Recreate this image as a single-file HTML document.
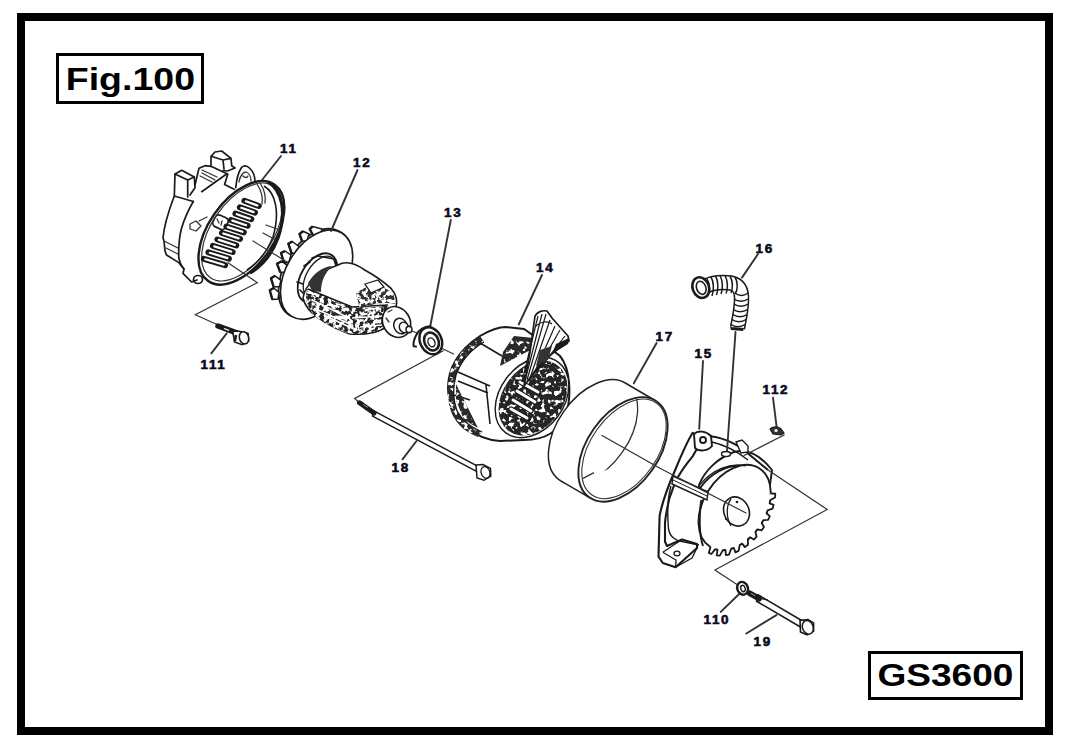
<!DOCTYPE html>
<html><head><meta charset="utf-8">
<style>
html,body{margin:0;padding:0;background:#fff;width:1070px;height:750px;overflow:hidden}
svg{position:absolute;left:0;top:0;display:block}
.lb{font-family:"Liberation Sans",sans-serif;font-weight:bold;font-size:12px;fill:#0a0a1e;stroke:#0a0a1e;stroke-width:0.55;letter-spacing:1.5px}
.big{font-family:"Liberation Sans",sans-serif;font-weight:bold;font-size:31px;fill:#000}
.k{fill:none;stroke:#1a1a1a;stroke-width:1.7;stroke-linecap:round;stroke-linejoin:round}
.kt{fill:none;stroke:#1a1a1a;stroke-width:2.4;stroke-linecap:round;stroke-linejoin:round}
.kn{fill:none;stroke:#333;stroke-width:1.3;stroke-linecap:round;stroke-linejoin:round}
.d{fill:none;stroke:#333;stroke-width:1.1;stroke-dasharray:9 1.5 1.5 1.5}
.ld{fill:none;stroke:#3a3a3a;stroke-width:1.3}
.w{fill:#fff}
.f{fill:#1a1a1a}
</style></head><body>
<svg width="1070" height="750" viewBox="0 0 1070 750">
<rect x="0" y="0" width="1070" height="750" fill="#fff"/>
<rect x="21" y="17" width="1028" height="714" fill="none" stroke="#000" stroke-width="8"/>
<rect x="57.5" y="54.5" width="145" height="48" fill="none" stroke="#000" stroke-width="3"/>
<text class="big" transform="translate(65.8,90) scale(1.21,1)">Fig.100</text>
<rect x="869.5" y="652.5" width="152" height="46" fill="none" stroke="#000" stroke-width="3"/>
<text class="big" transform="translate(877.5,686) scale(1.195,1)">GS3600</text>
<text class="lb" transform="translate(280,153) scale(1.12,1)">11</text>
<text class="lb" transform="translate(353,166.5) scale(1.12,1)">12</text>
<text class="lb" transform="translate(444,217) scale(1.12,1)">13</text>
<text class="lb" transform="translate(536,272) scale(1.12,1)">14</text>
<text class="lb" transform="translate(755.5,253) scale(1.12,1)">16</text>
<text class="lb" transform="translate(655.5,341) scale(1.12,1)">17</text>
<text class="lb" transform="translate(694.5,358) scale(1.12,1)">15</text>
<text class="lb" transform="translate(762.5,393.5) scale(1.12,1)">112</text>
<text class="lb" transform="translate(391.5,472) scale(1.12,1)">18</text>
<text class="lb" transform="translate(200.5,369) scale(1.12,1)">111</text>
<text class="lb" transform="translate(703.5,623.5) scale(1.12,1)">110</text>
<text class="lb" transform="translate(753.5,646) scale(1.12,1)">19</text>
<!-- a11.svg -->
<g id="p11">
<!-- lugs / back body -->
<path class="k" d="M175,174 L181.7,170.3 L194.3,177 L187.7,180 Z"/>
<path class="k" d="M175,174 L174.3,196 M187.7,180 L187.7,197 M174.3,196 L193.3,201.5 M194.3,177 L195,187.7 L190,195"/>
<path class="k" d="M195,185 L199,168.3 L205,165.7 L211,166.3 L227,173.7 M201.7,191.7 L227,173.7"/>
<path class="kn" d="M202,170 L217,177 M202,173 L215,180 M200,176 L212,182"/>
<path class="k" d="M211,166.3 L211,156.3 L215,152 L221.7,151 L231,158.3 L231.7,165.7 L235,168 L227.5,171 L223,170.5 M223,160 L224,169 M211,156.3 L223,160 L231,158.3"/>
<path class="k" d="M235.8,187.6 C236.5,180 238.5,172 241.5,167.5 C244,165 247,165.5 250,168.5 C253.5,172 255,177 255,182 M227.8,174 L224.6,184.4 L234.2,189.2"/>
<path class="kn" d="M239,182 C240,176 243,172 246,172 C249,173 251,177 251,181 M243,176 C245,178 247,178 248,176"/>
<!-- outer left edge -->
<path class="k" d="M174.3,196 C169,210 164,226 163,238 L164,241 L165,251 L166.5,255 L178.8,262.6 L184,269 L183,273.3 L191.6,282 L197,280"/>
<path class="kn" d="M164,241 L178,248 M166,248 L178,254"/>
<!-- inner face edge -->
<path class="k" d="M193.3,201.5 C190,207 184,220 181.3,229 C179.5,236 178.5,244 178.7,257 C179.5,262 181,266 184,269"/>
<!-- boss bottom -->
<ellipse class="k" cx="198" cy="279.5" rx="4.5" ry="4"/>
<!-- small features -->
<path class="kn" d="M190,224 L196,221 L201,226 L196,231 L190,229 Z M199,221 L207,217"/>
<rect class="k" x="213.5" y="216" width="14" height="12.5" rx="4" transform="rotate(25 220.5 222.2)" stroke-width="1.6"/><path class="kn" d="M217,219 L219,223 M222,221 L221,225"/>
<!-- rim -->
<ellipse cx="241.4" cy="232.9" rx="58.5" ry="33" transform="rotate(-55.4 241.4 232.9)" fill="none" stroke="#1a1a1a" stroke-width="2.4"/>
<ellipse cx="242" cy="232" rx="55.5" ry="30.5" transform="rotate(-55.4 242 232)" fill="none" stroke="#333" stroke-width="1.2"/>
<path d="M268,182 C282,190 287,212 278,238 C272,254 262,266 250,273" fill="none" stroke="#1a1a1a" stroke-width="3.2"/>
<path d="M264,186 C276,193 280,213 273,237 C267,252 258,263 247,270" fill="none" stroke="#1a1a1a" stroke-width="1.6"/>
<path class="kn" d="M257,184 C261,190 263,197 262,204 M260,183 C264,189 266,196 265,203"/>
<!-- slots -->
<g stroke="#1a1a1a" stroke-linecap="round" fill="none">
<path stroke-width="6" d="M244.4,200.8 L258.8,206.0 M239.9,207.3 L255.0,212.6 M235.4,213.7 L251.3,219.1 M230.9,220.2 L247.6,225.7 M226.4,226.6 L243.8,232.3 M221.9,233.0 L240.1,238.9 M217.4,239.5 L236.3,245.4 M212.9,245.9 L232.6,252.0 M208.4,252.4 L228.9,258.6 M203.9,258.9 L225.1,265.1"/>
<path stroke-width="2.2" stroke="#fff" d="M245.8,201.3 L257.4,205.5 M241.3,207.8 L253.6,212.1 M236.8,214.2 L249.9,218.7 M232.3,220.6 L246.1,225.2 M227.8,227.1 L242.4,231.8 M223.3,233.5 L238.6,238.4 M218.8,239.9 L234.9,245.0 M214.3,246.4 L231.2,251.6 M209.8,252.8 L227.4,258.1 M205.3,259.3 L223.7,264.7"/>
</g>
<path class="kn" d="M266,225 L280,230 M263,233 L276,240"/>
</g>
<!-- b12a.svg -->
<g id="p12">
<ellipse cx="314.6" cy="273.4" rx="48.7" ry="30.4" transform="rotate(-59.2 314.6 273.4)" fill="#fff" stroke="#1a1a1a" stroke-width="1.8"/>
<path fill="#fff" stroke="#1a1a1a" stroke-width="1.5" stroke-linejoin="round" d="M309.7,229.0 L312.5,226.5 L322.0,229.0 L320.0,236.0 L314.0,237.0 Z"/><path d="M314.0,237.0 L309.7,229.0 L312.5,226.5" stroke="#1a1a1a" stroke-width="2.4" fill="none" stroke-linejoin="round"/><path fill="#fff" stroke="#1a1a1a" stroke-width="1.5" stroke-linejoin="round" d="M299.5,234.0 L303.0,231.2 L309.0,234.0 L307.0,241.0 L302.0,241.0 Z"/><path d="M302.0,241.0 L299.5,234.0 L303.0,231.2" stroke="#1a1a1a" stroke-width="2.4" fill="none" stroke-linejoin="round"/><path fill="#fff" stroke="#1a1a1a" stroke-width="1.5" stroke-linejoin="round" d="M288.3,243.7 L292.3,241.5 L299.0,246.5 L297.0,253.0 L291.7,253.5 Z"/><path d="M291.7,253.5 L288.3,243.7 L292.3,241.5" stroke="#1a1a1a" stroke-width="2.4" fill="none" stroke-linejoin="round"/><path fill="#fff" stroke="#1a1a1a" stroke-width="1.5" stroke-linejoin="round" d="M281.0,253.0 L285.0,251.0 L291.0,255.0 L289.0,262.0 L284.0,262.5 Z"/><path d="M284.0,262.5 L281.0,253.0 L285.0,251.0" stroke="#1a1a1a" stroke-width="2.4" fill="none" stroke-linejoin="round"/><path fill="#fff" stroke="#1a1a1a" stroke-width="1.5" stroke-linejoin="round" d="M277.0,263.7 L281.7,261.2 L287.5,265.7 L285.5,272.0 L280.3,272.5 Z"/><path d="M280.3,272.5 L277.0,263.7 L281.7,261.2" stroke="#1a1a1a" stroke-width="2.4" fill="none" stroke-linejoin="round"/><path fill="#fff" stroke="#1a1a1a" stroke-width="1.5" stroke-linejoin="round" d="M271.0,278.3 L275.0,275.8 L281.0,280.3 L279.5,286.5 L273.7,287.0 Z"/><path d="M273.7,287.0 L271.0,278.3 L275.0,275.8" stroke="#1a1a1a" stroke-width="2.4" fill="none" stroke-linejoin="round"/><path fill="#fff" stroke="#1a1a1a" stroke-width="1.5" stroke-linejoin="round" d="M269.8,290.3 L273.7,288.0 L279.0,292.3 L278.0,299.0 L272.3,299.5 Z"/><path d="M272.3,299.5 L269.8,290.3 L273.7,288.0" stroke="#1a1a1a" stroke-width="2.4" fill="none" stroke-linejoin="round"/>
<ellipse cx="316.6" cy="274.6" rx="48.7" ry="30.4" transform="rotate(-59.2 316.6 274.6)" fill="#fff" stroke="#1a1a1a" stroke-width="1.6"/>
<!-- b12b.svg -->
<!-- collar -->
<ellipse cx="317.5" cy="278" rx="27" ry="16.5" transform="rotate(-59 317.5 278)" fill="#fff" stroke="#1a1a1a" stroke-width="1.8"/>
<ellipse cx="319.5" cy="277" rx="23" ry="13" transform="rotate(-59 319.5 277)" fill="none" stroke="#1a1a1a" stroke-width="1.3"/>
<path class="k" d="M312,258 L318,256 L334,259 L337,268 M304,266 L310,262 M300,290 L306,296 M297,282 L303,284"/>
<!-- rotor body -->
<path fill="#fff" stroke="#1a1a1a" stroke-width="1.6" d="M338,265 C343,262 352,261 364.7,270 C372,274 381,279 391.3,288.7 C395,293 397,297 396.7,303 L395,312 L385,328 C378,332 365,335 350,334 C340,331 330,326 316.7,316.7 C310,312 305,306 303,298 C305,285 318,272 338,265 Z"/>
<!-- dark winding band -->
<defs>
<filter id="mot12" x="0" y="0" width="100%" height="100%" filterUnits="userSpaceOnUse">
<feTurbulence type="fractalNoise" baseFrequency="0.25" numOctaves="2" seed="11" result="n"/>
<feColorMatrix in="n" type="matrix" values="0 0 0 0 1  0 0 0 0 1  0 0 0 0 1  9 0 0 0 -4.0"/>
</filter>
<clipPath id="cb12"><path d="M307,289 C316,290 330,300 350,306 C362,309 375,308 388,305 L390,322 C384,330 372,334 352,334 C338,331 326,325 315,316 C308,309 304,300 307,289 Z"/></clipPath>
<clipPath id="cb12b"><path d="M356,294 C366,284 380,283 393,293 L396,304 C386,302 372,303 360,309 Z"/></clipPath>
</defs>
<path fill="#262626" d="M307,289 C316,290 330,300 350,306 C362,309 375,308 388,305 L390,322 C384,330 372,334 352,334 C338,331 326,325 315,316 C308,309 304,300 307,289 Z"/>
<g clip-path="url(#cb12)"><rect x="300" y="280" width="100" height="60" filter="url(#mot12)"/></g>
<g stroke="#fff" stroke-width="1.6" fill="none">
<path d="M312,300 L345,316 M318,310 L350,324 M330,318 L356,330 M352,318 L385,316 M360,327 L382,325"/>
</g>
<g stroke="#1a1a1a" stroke-width="1.6" fill="none">
<path d="M308,289 L352,307 L388,305"/>
</g>
<path fill="#333" d="M308,283 C314,273 322,267 332,266 C325,273 321,281 321,292 L312,291 Z"/>
<path fill="#333" d="M356,294 C366,284 380,283 393,293 L396,304 C386,302 372,303 360,309 Z"/>
<g clip-path="url(#cb12b)"><rect x="350" y="280" width="50" height="32" filter="url(#mot12)"/></g>
<path fill="#fff" stroke="#1a1a1a" stroke-width="1.3" d="M365,284 L378,280 L384,287 L371,293 Z"/>
<!-- end cap -->
<ellipse cx="396.5" cy="322" rx="13.5" ry="16" transform="rotate(-30 396.5 322)" fill="#fff" stroke="#1a1a1a" stroke-width="1.6"/>
<path class="kn" d="M388,312 L392,310 M386,318 L389,322" />
<ellipse cx="400.5" cy="326" rx="6.5" ry="8" transform="rotate(-25 400.5 326)" fill="#fff" stroke="#1a1a1a" stroke-width="1.5"/>
<ellipse cx="404" cy="327.5" rx="4.5" ry="5.5" transform="rotate(-25 404 327.5)" fill="#fff" stroke="#1a1a1a" stroke-width="1.4"/>
<ellipse cx="409" cy="329.5" rx="3" ry="3.2" fill="#fff" stroke="#1a1a1a" stroke-width="1.4"/>
<path class="kn" d="M412,331 L417,333"/>
</g>
<!-- c14.svg -->
<g id="p14">
<!-- body -->
<path fill="#fff" stroke="#1a1a1a" stroke-width="2" d="M480,336 C492,329 500,327 506,327 L524,329 L534,336 L560,356 C570,368 572,395 566,414 C560,430 548,440 524,440 L500,441 C486,440 474,434 466,427 C455,416 448,400 448,388 C448,370 456,352 480,336 Z"/>
<clipPath id="cbd14"><path d="M480,336 C468,344 456,356 450,372 C447,385 447,402 452,414 C458,426 466,432 478,437 L482,432 C470,427 462,420 457,411 C453,400 453,386 456,375 C461,361 472,349 484,342 Z"/></clipPath>
<path fill="#2a2a2a" d="M480,336 C468,344 456,356 450,372 C447,385 447,402 452,414 C458,426 466,432 478,437 L482,432 C470,427 462,420 457,411 C453,400 453,386 456,375 C461,361 472,349 484,342 Z"/>
<g clip-path="url(#cbd14)"><rect x="440" y="330" width="50" height="110" filter="url(#mot14)"/></g>
<path fill="none" stroke="#1a1a1a" stroke-width="1.3" d="M484,342 C472,349 461,361 456,375 C453,386 453,400 457,411 C462,420 470,427 482,432"/>
<!-- left stripes -->
<path fill="none" stroke="#1a1a1a" stroke-width="1.6" d="M458,372 L490,386 M458,381 L488,393 M480,343 L502,356 M486,385 L490,424 M454,395 L470,400"/>
<clipPath id="ct14a"><path d="M456,384 L470,412 L478,428 L464,420 L456,400 Z"/></clipPath><path fill="#2a2a2a" d="M456,384 L470,412 L478,428 L464,420 L456,400 Z"/><g clip-path="url(#ct14a)"><rect x="450" y="380" width="30" height="50" filter="url(#mot14)"/></g>
<clipPath id="ct14b"><path d="M514,336 L534,338 L540,345 L500,366 L503,352 Z"/></clipPath><path fill="#2a2a2a" d="M514,336 L534,338 L540,345 L500,366 L503,352 Z"/><g clip-path="url(#ct14b)"><rect x="495" y="330" width="50" height="40" filter="url(#mot14)"/></g>
<!-- face -->
<defs>
<filter id="mot14" x="0" y="0" width="100%" height="100%" filterUnits="userSpaceOnUse">
<feTurbulence type="fractalNoise" baseFrequency="0.22" numOctaves="2" seed="7" result="n"/>
<feColorMatrix in="n" type="matrix" values="0 0 0 0 1  0 0 0 0 1  0 0 0 0 1  9 0 0 0 -4.9"/>
</filter>
<clipPath id="cf14"><ellipse cx="533" cy="398" rx="41" ry="30" transform="rotate(-53 533 398)"/></clipPath>
</defs>
<ellipse cx="532" cy="397.5" rx="44" ry="32" transform="rotate(-53 532 397.5)" fill="#fff" stroke="#1a1a1a" stroke-width="1.4"/>
<ellipse cx="533" cy="398" rx="41" ry="30" transform="rotate(-53 533 398)" fill="#262626"/>
<g clip-path="url(#cf14)"><rect x="480" y="340" width="110" height="110" filter="url(#mot14)"/></g>
<g stroke="#1a1a1a" stroke-width="5.2" stroke-linecap="round" fill="none">
<path d="M520,382 L538,392 M517,391 L535,402 M513,400 L531,411 M511,409 L527,418"/>
</g>
<g stroke="#fff" stroke-width="3" stroke-linecap="round" fill="none">
<path d="M520,382 L538,392 M517,391 L535,402 M513,400 L531,411 M511,409 L527,418"/>
</g>
<!-- wire bundle -->
<path fill="#fff" stroke="#1a1a1a" stroke-width="1.7" stroke-linejoin="round" d="M535,316 C537,312 542,310 547,311 L552,318 L568,336 L569,341 L560,347 L540,364 L524,386 L530,352 Z"/>
<g stroke="#1a1a1a" stroke-width="1.2" fill="none">
<path d="M538,316 L522,382 M542,314 L525,381 M546,314 L527,380 M550,320 L530,378 M555,326 L533,376 M560,330 L536,372 M565,336 L540,368 M536,326 C540,322 548,320 552,324"/>
</g>
<path fill="#1a1a1a" d="M556,344 L569,338 L568,344 L552,354 Z"/>
<path fill="#333" d="M540,350 L552,346 L548,360 L536,366 Z"/>
</g>
<!-- d17.svg -->
<g id="p17">
<ellipse cx="593.0" cy="431.9" rx="58.6" ry="35.7" transform="rotate(-54.8 593.0 431.9)" fill="#fff" stroke="#222" stroke-width="1.5"/>
<path fill="#fff" stroke="none" d="M590.8,498.3 L560.8,480.8 L625.2,383.0 L655.2,400.5 Z"/>
<path fill="none" stroke="#222" stroke-width="1.5" d="M590.8,498.3 L560.8,480.8 M655.2,400.5 L625.2,383.0"/>
<clipPath id="c17"><ellipse cx="623.0" cy="449.4" rx="57.6" ry="34.7" transform="rotate(-54.8 623.0 449.4)"/></clipPath>
<ellipse cx="623.0" cy="449.4" rx="58.6" ry="35.7" transform="rotate(-54.8 623.0 449.4)" fill="#fff" stroke="#222" stroke-width="1.9"/>
<ellipse cx="624.0" cy="448.9" rx="56.1" ry="33.2" transform="rotate(-54.8 624.0 448.9)" fill="none" stroke="#333" stroke-width="1.1"/>
<clipPath id="c17b"><path d="M560,360 L700,360 L700,440 L600,472 L560,490 Z"/></clipPath>
<g clip-path="url(#c17b)"><g clip-path="url(#c17)"><ellipse cx="593.0" cy="431.9" rx="58.6" ry="35.7" transform="rotate(-54.8 593.0 431.9)" fill="none" stroke="#333" stroke-width="1.3"/></g></g>
<path fill="none" stroke="#333" stroke-width="1.3" d="M601.6,435.3 L659.5,468 M583,478.3 L594,472.7"/>
</g>
<!-- e15.svg -->
<g id="p15">
<path fill="#fff" stroke="#1a1a1a" stroke-width="1.9" d="M699,485 C705,470 718,458 734,452 C748,448 760,455 772,470 L769,492 C760,475 748,466 734,466 C720,468 706,478 699,490 Z"/>
<path fill="#fff" stroke="#1a1a1a" stroke-width="2.1" stroke-linejoin="round" d="M692.7,432.8 C688,440 681,456 675.6,469 C669,484 662,503 659.6,516 L658.5,556.6 L662.8,563 L675.6,567.3 L697,548 L697,544 L682,539.5 L667,546 L665,541.7 L665,522.5 C666,512 668,505 669.2,499 C672,490 675,483 677.7,477.6 C683,468 688,462 692.7,456.3 L701.2,441.3 Z"/>
<path fill="none" stroke="#1a1a1a" stroke-width="1.3" d="M662.8,552.3 L682,539.5 M675.6,567.3 L676,560 L662.8,552.3 M697,548 L692,558 L676,567"/>
<ellipse cx="677" cy="553.5" rx="3" ry="2.3" fill="none" stroke="#1a1a1a" stroke-width="1.3"/>
<ellipse cx="734.6" cy="507.5" rx="46.3" ry="31.2" transform="rotate(-58.0 734.6 507.5)" fill="#fff" stroke="#1a1a1a" stroke-width="1.9"/>
<path fill="#fff" stroke="#1a1a1a" stroke-width="1.8" stroke-linejoin="round" d="M770.7,493.5 L775.3,493.7 L775.0,497.4 L770.1,500.3 L769.6,503.3 L773.6,504.8 L772.6,508.6 L767.6,510.3 L766.5,513.3 L769.8,516.1 L768.1,519.8 L763.3,520.2 L761.7,523.0 L764.0,527.0 L761.7,530.3 L757.4,529.3 L755.4,531.8 L756.6,536.7 L753.8,539.6 L750.2,537.3 L747.9,539.3 L748.0,544.8 L744.9,547.1 L742.2,543.6 L739.7,545.1 L738.6,550.9 L735.4,552.4 L733.8,547.9 L731.2,548.7 L729.0,554.6 L725.9,555.2 L725.4,549.9 L722.9,550.1 L719.8,555.6 L716.8,555.4 L717.5,549.7 L715.3,549.1 L711.3,554.0 L708.8,552.9 L710.5,547.0"/>
<path fill="none" stroke="#1a1a1a" stroke-width="1.9" d="M701.3,500 C699,515 699,535 703,546"/>
<path fill="none" stroke="#1a1a1a" stroke-width="1.2" d="M699.2,485.3 C712,470 730,462 746,466"/>
<path fill="none" stroke="#1a1a1a" stroke-width="1.4" d="M671,486 C668,496 667,511 668.5,529 C670,537 676,541 682,541.5 L699,545"/>
<path fill="#fff" stroke="#1a1a1a" stroke-width="1.4" d="M673,476 L708,492 L707,500 L672,484 Z"/>
<path fill="none" stroke="#1a1a1a" stroke-width="1" d="M673,480 L707,496"/>
<ellipse cx="736.5" cy="511.5" rx="12.5" ry="15" transform="rotate(-25 736.5 511.5)" fill="#fff" stroke="#1a1a1a" stroke-width="1.6"/>
<path fill="none" stroke="#1a1a1a" stroke-width="1.3" d="M731,499 C726,505 726,518 731,526"/>
<circle cx="737" cy="502" r="1.3" fill="#1a1a1a"/><circle cx="726" cy="519" r="1.1" fill="#1a1a1a"/>
<path fill="#fff" stroke="#1a1a1a" stroke-width="1.9" d="M694,434 C698,430 706,431 711,436 L712,446 C708,451 699,452 695,448 Z"/>
<circle cx="703" cy="440" r="3" fill="none" stroke="#1a1a1a" stroke-width="1.9"/>
<path fill="none" stroke="#1a1a1a" stroke-width="2" d="M710,436.3 C725,438 740,446 750.4,455.5 L768,470"/>
<path fill="none" stroke="#1a1a1a" stroke-width="1.3" d="M712,442 C725,445 738,452 748,460"/>
<ellipse cx="726" cy="454" rx="4.5" ry="2.5" fill="#fff" stroke="#1a1a1a" stroke-width="1.4"/>
<path fill="#fff" stroke="#1a1a1a" stroke-width="1.4" d="M736,442 L742,440 L748,446 L748,452 L741,453 Z"/>
</g>
<!-- f16.svg -->
<g id="p16">
<path d="M706,286 C712,283 722,282 731,283 C740,285 742,292 741.5,301 C741,312 739,320 737.5,328" fill="none" stroke="#1a1a1a" stroke-width="15.5" stroke-linecap="butt"/>
<path d="M706,286 C712,283 722,282 731,283 C740,285 742,292 741.5,301 C741,312 739,320 737.5,328" fill="none" stroke="#fff" stroke-width="12.5" stroke-linecap="butt"/>
<g fill="none" stroke="#1a1a1a" stroke-width="1.5">
<path d="M711,277 C714,282 714,290 712,296 M715.5,276 C718.5,281 718.5,289 716.5,295 M720,275.5 C723,281 723,289 721,294 M725,275.5 C728,281 728,289 726,293.5 M730,276 C733,281 733,289 731,293 M735,277 C738,282 738,290 735,294"/>
<path d="M735,293 C739,296 744,296 748,293 M734,299 C738,302 744,302 748,299 M734,304 C738,307 744,307 748,304 M733.5,309.5 C737,312.5 743,312.5 747.5,309.5 M733,314.5 C737,317.5 743,317.5 747,314.5 M732,319.5 C736,322.5 742,322.5 746,319.5 M731,324.5 C735,327.5 741,327.5 745,324.5"/>
</g>
<path d="M730,327 L744,328 L743,331 L731,330 Z" fill="#1a1a1a"/>
<ellipse cx="700.8" cy="287.6" rx="8.2" ry="10.6" transform="rotate(-20 700.8 287.6)" fill="#fff" stroke="#1a1a1a" stroke-width="2.6"/>
<ellipse cx="701.2" cy="287.8" rx="4.6" ry="6.8" transform="rotate(-20 701.2 287.8)" fill="#fff" stroke="#1a1a1a" stroke-width="1.6"/>
<path d="M707,279 C710,284 710,292 707,297" fill="none" stroke="#1a1a1a" stroke-width="1.6"/>
</g>
<!-- g_misc.svg -->
<g id="misc">
<!-- leader lines -->
<g fill="none" stroke="#333" stroke-width="1.9" stroke-linecap="round">
<path d="M281,156 L262,180"/>
<path d="M357.5,170 L331,231"/>
<path d="M450.8,220 L430.4,325.5"/>
<path d="M542,275 L518.7,324.5"/>
<path d="M758,254 L742,277.6"/>
<path d="M656.6,343 L633.8,383.3"/>
<path d="M703,361 L699.2,428.8"/>
<path d="M773,397.7 L776.7,427.6"/>
<path d="M735.5,332 L727,451"/>
<path d="M402.5,459.3 L416.5,441"/>
<path d="M211.3,353.3 L226.7,333.3"/>
<path d="M720.7,611.9 L739.7,593.5"/>
<path d="M746.3,633.5 L776.4,615.1"/>
</g>
<!-- dashed/construction lines -->
<g fill="none" stroke="#333" stroke-width="1.2" stroke-linecap="round">
<path d="M228,262.7 L257.3,282.7 L195.3,314.7 L218.7,325.3"/>
<path d="M253,241 L287,262"/>
<path d="M443.2,350.8 L354.7,398.5 L359,402.5"/>
<path d="M438.4,346.8 L453.6,354"/>
<path d="M659.5,468 L746,513"/>
<path d="M768,470 L827.2,509.5 L714.9,570 L737,584.4"/>
<path d="M784.1,435 L744,455.5"/>
</g>
<!-- bearing 13 -->
<path d="M431.2,326 C424,326.5 418.5,330 416,335.5 C413.8,340 413.2,344 413.6,346.2 L416.8,346.8" fill="none" stroke="#1a1a1a" stroke-width="2"/>
<ellipse cx="430.8" cy="340.8" rx="10.8" ry="14" transform="rotate(-25 430.8 340.8)" fill="#fff" stroke="#1a1a1a" stroke-width="2.4"/>
<ellipse cx="431.5" cy="341.5" rx="7" ry="9.3" transform="rotate(-25 431.5 341.5)" fill="none" stroke="#1a1a1a" stroke-width="2.6"/>
<ellipse cx="431.5" cy="342.3" rx="3.3" ry="4.6" transform="rotate(-25 431.5 342.3)" fill="none" stroke="#2a2a2a" stroke-width="1.5"/>
<path d="M424,336 L428,333" stroke="#333" stroke-width="1.2"/>
<!-- bolt 111 -->
<path d="M218,326 L236,332.7" fill="none" stroke="#1a1a1a" stroke-width="5.5" stroke-linecap="round"/>
<path d="M224,328.5 L229,330.3" fill="none" stroke="#fff" stroke-width="1.3"/>
<path d="M232.7,331 L239.3,331.3 L248,333.5 L248.7,341 L242,344.7 L234.5,342 Z" fill="#fff" stroke="#1a1a1a" stroke-width="1.6"/>
<path d="M236,335 L235,341" fill="none" stroke="#1a1a1a" stroke-width="2.5"/>
<ellipse cx="244" cy="337.8" rx="4.6" ry="6.2" transform="rotate(-15 244 337.8)" fill="#fff" stroke="#1a1a1a" stroke-width="1.6"/>
<!-- rod 18 -->
<path d="M373,410.3 L477,465.8 L476.5,471.3 L372.5,416.2 Z" fill="#fff" stroke="#1a1a1a" stroke-width="1.5" stroke-linejoin="round"/>
<path d="M359.5,402.8 L374,413" fill="none" stroke="#1a1a1a" stroke-width="5" stroke-linecap="round"/>
<path d="M363,404.5 L368,407.5" fill="none" stroke="#888" stroke-width="1"/>
<path d="M476,465 L483,464.5 L490.5,468.5 L490.8,476 L484,480.3 L477,478 Z" fill="#fff" stroke="#1a1a1a" stroke-width="1.5"/>
<ellipse cx="485.5" cy="472.5" rx="4.3" ry="6" transform="rotate(-20 485.5 472.5)" fill="none" stroke="#1a1a1a" stroke-width="1.3"/>
<!-- bolt 19 -->
<path d="M758,594.8 L802.5,621 L800,626.8 L756.5,601.2 Z" fill="#fff" stroke="#1a1a1a" stroke-width="1.6" stroke-linejoin="round"/>
<path d="M750,593.5 L759,598.5" fill="none" stroke="#1a1a1a" stroke-width="6" stroke-linecap="round"/>
<path d="M751,593.3 L755,595.8" fill="none" stroke="#999" stroke-width="1"/>
<path d="M758,598 L768,600" fill="none" stroke="#1a1a1a" stroke-width="1.2"/>
<path d="M800,620.4 L808,619.5 L813.6,623 L813.6,631 L807,634.8 L800.5,632 Z" fill="#fff" stroke="#1a1a1a" stroke-width="1.6"/>
<ellipse cx="807.8" cy="627.3" rx="5.3" ry="7" transform="rotate(-20 807.8 627.3)" fill="#fff" stroke="#1a1a1a" stroke-width="1.5"/>
<!-- washer 110 -->
<ellipse cx="742.6" cy="588.3" rx="5.3" ry="6.5" transform="rotate(-20 742.6 588.3)" fill="#fff" stroke="#1a1a1a" stroke-width="2.4"/>
<ellipse cx="743" cy="588.5" rx="2.2" ry="3.2" transform="rotate(-20 743 588.5)" fill="none" stroke="#1a1a1a" stroke-width="1.4"/>
<!-- screw 112 -->
<path d="M770,429 C772,426 778,426 781,429 L784,433 L781,435 L773,434 Z" fill="#333" stroke="#1a1a1a" stroke-width="1.2"/>
<circle cx="776" cy="430.5" r="1.6" fill="#fff"/>
</g>
</svg>
</body></html>
